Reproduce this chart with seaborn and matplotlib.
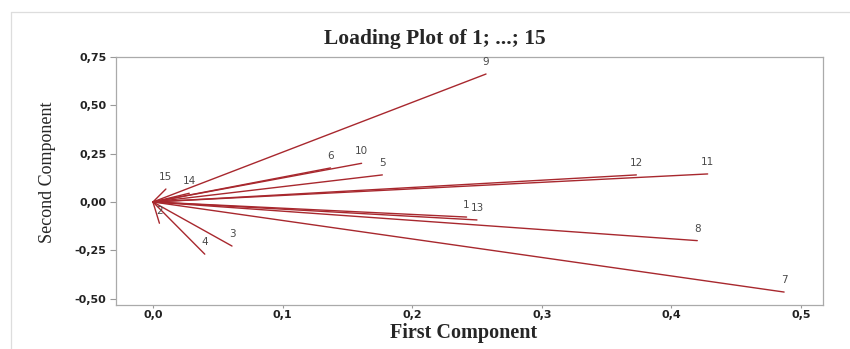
import matplotlib
matplotlib.use("Agg")
import matplotlib.pyplot as plt
from matplotlib.ticker import FuncFormatter, FixedLocator
from matplotlib.lines import Line2D
import seaborn as sns
import pandas as pd

variables = ["1", "2", "3", "4", "5", "6", "7", "8", "9", "10", "11", "12", "13", "14", "15"]
first_component = [0.242, 0.005, 0.061, 0.040, 0.177, 0.137, 0.487, 0.420, 0.257, 0.161, 0.428, 0.373, 0.250, 0.028, 0.010]
second_component = [-0.078, -0.110, -0.228, -0.270, 0.140, 0.176, -0.466, -0.200, 0.662, 0.200, 0.145, 0.140, -0.093, 0.045, 0.067]
x_ticks = [0.0, 0.1, 0.2, 0.3, 0.4, 0.5]
y_ticks = [-0.50, -0.25, 0.00, 0.25, 0.50, 0.75]

rows = []
for v, x, y in zip(variables, first_component, second_component):
    rows.append({"var": v, "x": 0.0, "y": 0.0})
    rows.append({"var": v, "x": x, "y": y})
df = pd.DataFrame(rows)

sns.set_style("white")
line_color = "#A8282E"

fig = plt.figure(figsize=(8.5, 3.49), dpi=100)
ax = fig.add_axes([116 / 850, 1 - 305 / 349, (823 - 116) / 850, (305 - 57) / 349])

sns.lineplot(data=df, x="x", y="y", units="var", estimator=None, sort=False,
             color=line_color, linewidth=1.0, ax=ax, legend=False)

for v, x, y in zip(variables, first_component, second_component):
    ax.annotate(v, (x, y), xytext=(0, 5), textcoords="offset points",
                ha="center", va="bottom", fontsize=7.5, color="#4a4a4a",
                family="DejaVu Sans")

ax.set_xlim(-0.0285, 0.517)
ax.set_ylim(-0.533, 0.75)
ax.xaxis.set_major_locator(FixedLocator(x_ticks))
ax.yaxis.set_major_locator(FixedLocator(y_ticks))
ax.xaxis.set_major_formatter(FuncFormatter(lambda v, p: f"{v:.1f}".replace(".", ",")))
ax.yaxis.set_major_formatter(FuncFormatter(lambda v, p: f"{v:.2f}".replace(".", ",")))
ax.tick_params(axis="both", which="major", direction="out", width=0.8,
               color="#999999", labelsize=8, labelcolor="#222222",
               bottom=True, left=True)
ax.tick_params(axis="x", length=2, pad=1.5)
ax.tick_params(axis="y", length=4, pad=3)
for lab in ax.get_xticklabels() + ax.get_yticklabels():
    lab.set_fontweight("bold")
    lab.set_family("DejaVu Sans")
for s in ax.spines.values():
    s.set_color("#AAAAAA")
    s.set_linewidth(0.9)

ax.set_xlabel("")
ax.set_ylabel("")
fig.text(464 / 850, 1 - 333 / 349, "First Component", ha="center", va="center",
         family="Liberation Serif", fontweight="bold", fontsize=14.5)
fig.text(48 / 850, 1 - 172 / 349, "Second Component", ha="center", va="center",
         rotation=90, family="Liberation Serif", fontsize=13)
fig.text(435 / 850, 1 - 39 / 349, "Loading Plot of 1; ...; 15", ha="center", va="center",
         family="Liberation Serif", fontweight="bold", fontsize=15.5)

fig.add_artist(Line2D([11 / 850, 1], [1 - 12 / 349, 1 - 12 / 349], color="#dddddd", linewidth=0.9))
fig.add_artist(Line2D([11 / 850, 11 / 850], [0, 1 - 12 / 349], color="#dddddd", linewidth=0.9))

fig.savefig("out.png", dpi=100)
